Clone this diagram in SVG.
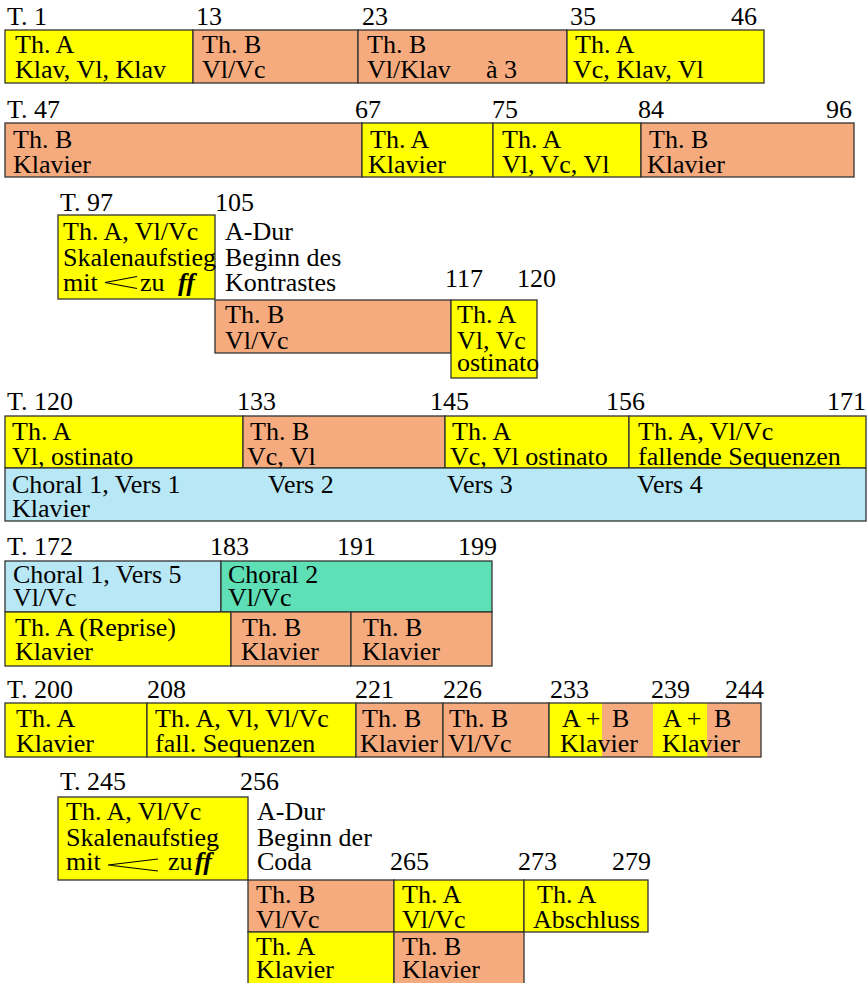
<svg xmlns="http://www.w3.org/2000/svg" width="868" height="983" viewBox="0 0 868 983">
  <style>
    text { font-family: "Liberation Serif", "Times New Roman", serif; font-size: 26px; fill: #000; }
    rect { stroke: #333; stroke-width: 1.3; }
    .bg { fill: #fff; stroke: none; }
    .ya { fill: #FFFF00; }
    .or { fill: #F5AB7D; }
    .bl { fill: #B8E7F5; }
    .gr { fill: #5EDFB5; }
    .nf { stroke: none; }
    .frame { fill: none; }
    .ff { font-style: italic; font-weight: bold; }
    .hairpin { fill: none; stroke: #000; stroke-width: 1.2; }
  </style>
  <rect class="bg" width="868" height="983"/>

  <!-- Takte 1-46 -->
  <g id="row1">
    <text x="7" y="25">T. 1</text>
    <text x="196" y="25">13</text>
    <text x="362" y="25">23</text>
    <text x="570" y="25">35</text>
    <text x="731" y="25">46</text>
    <g id="r1a"><rect class="ya" x="5" y="30" width="188" height="53"/>
      <text x="15" y="53">Th. A</text><text x="15" y="78">Klav, Vl, Klav</text></g>
    <g id="r1b"><rect class="or" x="193" y="30" width="165" height="53"/>
      <text x="202" y="53">Th. B</text><text x="202" y="78">Vl/Vc</text></g>
    <g id="r1c"><rect class="or" x="358" y="30" width="209" height="53"/>
      <text x="367" y="53">Th. B</text><text x="367" y="78">Vl/Klav</text><text x="486" y="78">à 3</text></g>
    <g id="r1d"><rect class="ya" x="567" y="30" width="197" height="53"/>
      <text x="575" y="53">Th. A</text><text x="573" y="78">Vc, Klav, Vl</text></g>
  </g>

  <!-- Takte 47-96 -->
  <g id="row2">
    <text x="7" y="118">T. 47</text>
    <text x="355" y="118">67</text>
    <text x="492" y="118">75</text>
    <text x="638" y="118">84</text>
    <text x="826" y="118">96</text>
    <g id="r2a"><rect class="or" x="5" y="123" width="357" height="54"/>
      <text x="13" y="148">Th. B</text><text x="13" y="173">Klavier</text></g>
    <g id="r2b"><rect class="ya" x="362" y="123" width="131" height="54"/>
      <text x="370" y="148">Th. A</text><text x="368" y="173">Klavier</text></g>
    <g id="r2c"><rect class="ya" x="493" y="123" width="148" height="54"/>
      <text x="502" y="148">Th. A</text><text x="502" y="173">Vl, Vc, Vl</text></g>
    <g id="r2d"><rect class="or" x="641" y="123" width="213" height="54"/>
      <text x="649" y="148">Th. B</text><text x="647" y="173">Klavier</text></g>
  </g>

  <!-- Takte 97-120 -->
  <g id="row3">
    <text x="60" y="211">T. 97</text>
    <text x="215" y="211">105</text>
    <text x="445" y="287">117</text>
    <text x="517" y="287">120</text>
    <g id="r3a"><rect class="ya" x="58" y="215" width="157" height="84"/>
      <text x="63" y="240">Th. A, Vl/Vc</text>
      <text x="63" y="266">Skalenaufstieg</text>
      <text x="63" y="291">mit</text>
      <path class="hairpin" d="M137,276.5 L105,282.5 L137,288.5"/>
      <text x="140" y="291">zu</text>
      <text class="ff" x="178" y="291">ff</text></g>
    <g id="r3note">
      <text x="225" y="240">A-Dur</text>
      <text x="225" y="266">Beginn des</text>
      <text x="225" y="291">Kontrastes</text></g>
    <g id="r3b"><rect class="or" x="215" y="300" width="236" height="53"/>
      <text x="225" y="323">Th. B</text><text x="225" y="349">Vl/Vc</text></g>
    <g id="r3c"><rect class="ya" x="451" y="300" width="86" height="78"/>
      <text x="457" y="323">Th. A</text><text x="457" y="349">Vl, Vc</text><text x="457" y="371">ostinato</text></g>
  </g>

  <!-- Takte 120-171 -->
  <g id="row4">
    <text x="7" y="410">T. 120</text>
    <text x="237" y="410">133</text>
    <text x="430" y="410">145</text>
    <text x="606" y="410">156</text>
    <text x="827" y="410">171</text>
    <g id="r4a"><rect class="ya" x="5" y="416" width="238" height="52"/>
      <text x="12" y="440">Th. A</text><text x="12" y="465">Vl, ostinato</text></g>
    <g id="r4b"><rect class="or" x="243" y="416" width="202" height="52"/>
      <text x="250" y="440">Th. B</text><text x="247" y="465">Vc, Vl</text></g>
    <g id="r4c"><rect class="ya" x="445" y="416" width="184" height="52"/>
      <text x="452" y="440">Th. A</text><text x="450" y="465">Vc, Vl ostinato</text></g>
    <g id="r4d"><rect class="ya" x="629" y="416" width="237" height="52"/>
      <text x="638" y="440">Th. A, Vl/Vc</text><text x="638" y="465">fallende Sequenzen</text></g>
    <g id="r4e"><rect class="bl" x="5" y="468" width="861" height="53"/>
      <text x="12" y="493">Choral 1, Vers 1</text>
      <text x="12" y="517">Klavier</text>
      <text x="268" y="493">Vers 2</text>
      <text x="447" y="493">Vers 3</text>
      <text x="637" y="493">Vers 4</text></g>
  </g>

  <!-- Takte 172-199 -->
  <g id="row5">
    <text x="7" y="555">T. 172</text>
    <text x="210" y="555">183</text>
    <text x="337" y="555">191</text>
    <text x="458" y="555">199</text>
    <g id="r5a"><rect class="bl" x="5" y="561" width="216" height="51"/>
      <text x="13" y="583">Choral 1, Vers 5</text><text x="13" y="606">Vl/Vc</text></g>
    <g id="r5b"><rect class="gr" x="221" y="561" width="271" height="51"/>
      <text x="228" y="583">Choral 2</text><text x="228" y="606">Vl/Vc</text></g>
    <g id="r5c"><rect class="ya" x="5" y="612" width="226" height="54"/>
      <text x="15" y="636">Th. A (Reprise)</text><text x="15" y="660">Klavier</text></g>
    <g id="r5d"><rect class="or" x="231" y="612" width="120" height="54"/>
      <text x="242" y="636">Th. B</text><text x="241" y="660">Klavier</text></g>
    <g id="r5e"><rect class="or" x="351" y="612" width="141" height="54"/>
      <text x="363" y="636">Th. B</text><text x="362" y="660">Klavier</text></g>
  </g>

  <!-- Takte 200-244 -->
  <g id="row6">
    <text x="7" y="698">T. 200</text>
    <text x="147" y="698">208</text>
    <text x="355" y="698">221</text>
    <text x="443" y="698">226</text>
    <text x="550" y="698">233</text>
    <text x="651" y="698">239</text>
    <text x="725" y="698">244</text>
    <g id="r6a"><rect class="ya" x="5" y="703" width="142" height="54"/>
      <text x="16" y="727">Th. A</text><text x="16" y="752">Klavier</text></g>
    <g id="r6b"><rect class="ya" x="147" y="703" width="209" height="54"/>
      <text x="155" y="727">Th. A, Vl, Vl/Vc</text><text x="155" y="752">fall. Sequenzen</text></g>
    <g id="r6c"><rect class="or" x="356" y="703" width="87" height="54"/>
      <text x="362" y="727">Th. B</text><text x="360" y="752">Klavier</text></g>
    <g id="r6d"><rect class="or" x="443" y="703" width="106" height="54"/>
      <text x="449" y="727">Th. B</text><text x="448" y="752">Vl/Vc</text></g>
    <g id="r6e">
      <rect class="or nf" x="549" y="703" width="212" height="54"/>
      <rect class="ya nf" x="549" y="703" width="53" height="54"/>
      <rect class="ya nf" x="653" y="703" width="54" height="54"/>
      <rect class="frame" x="549" y="703" width="212" height="54"/>
      <text x="562" y="727">A +</text><text x="612" y="727">B</text><text x="560" y="752">Klavier</text>
      <text x="663" y="727">A +</text><text x="714" y="727">B</text><text x="662" y="752">Klavier</text></g>
  </g>

  <!-- Takte 245-279 -->
  <g id="row7">
    <text x="60" y="790">T. 245</text>
    <text x="240" y="790">256</text>
    <text x="390" y="870">265</text>
    <text x="518" y="870">273</text>
    <text x="612" y="870">279</text>
    <g id="r7a"><rect class="ya" x="58" y="797" width="190" height="83"/>
      <text x="66" y="820">Th. A, Vl/Vc</text>
      <text x="66" y="846">Skalenaufstieg</text>
      <text x="66" y="870">mit</text>
      <path class="hairpin" d="M158,859 L108,865 L158,871"/>
      <text x="168" y="870">zu</text>
      <text class="ff" x="195" y="870">ff</text></g>
    <g id="r7note">
      <text x="257" y="820">A-Dur</text>
      <text x="257" y="846">Beginn der</text>
      <text x="257" y="870">Coda</text></g>
    <g id="r7b"><rect class="or" x="248" y="880" width="146" height="52"/>
      <text x="256" y="903">Th. B</text><text x="256" y="928">Vl/Vc</text></g>
    <g id="r7c"><rect class="ya" x="248" y="932" width="146" height="56"/>
      <text x="256" y="955">Th. A</text><text x="256" y="978">Klavier</text></g>
    <g id="r7d"><rect class="ya" x="394" y="880" width="130" height="52"/>
      <text x="402" y="903">Th. A</text><text x="402" y="928">Vl/Vc</text></g>
    <g id="r7e"><rect class="ya" x="524" y="880" width="124" height="52"/>
      <text x="537" y="903">Th. A</text><text x="533" y="928">Abschluss</text></g>
    <g id="r7f"><rect class="or" x="394" y="932" width="130" height="56"/>
      <text x="402" y="955">Th. B</text><text x="402" y="978">Klavier</text></g>
  </g>
</svg>
